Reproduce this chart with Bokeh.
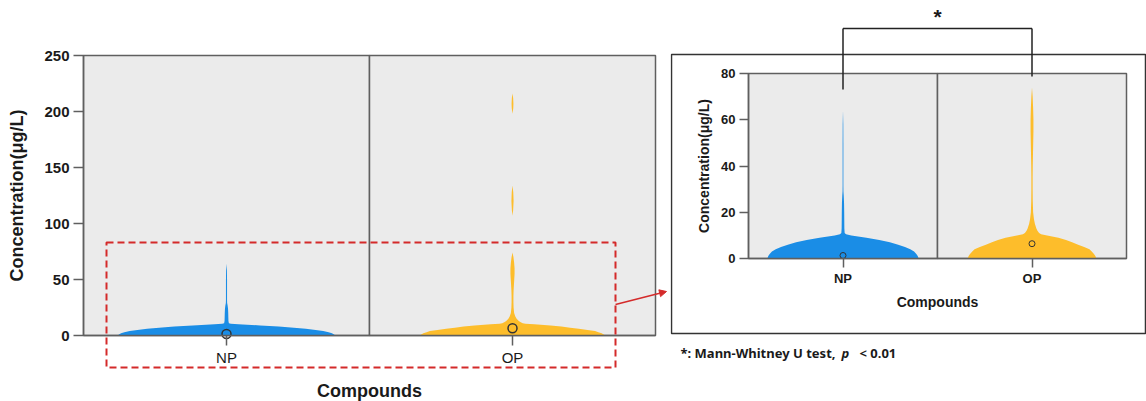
import numpy as np
from bokeh.plotting import figure
from bokeh.models import (Range1d, FixedTicker, BoxAnnotation, Arrow,
                          NormalHead, Label)
from bokeh.layouts import row
from bokeh.embed import file_html
from bokeh.resources import INLINE

# ---------------- data ----------------
categories = ["NP", "OP"]
np_levels = [0, 1, 2, 3, 4, 5, 6, 7, 8, 9, 10, 10.5, 11, 13, 16, 20, 24, 27,
             29, 32, 40, 50, 58, 64]
np_density = [1.0, 0.99, 0.97, 0.94, 0.89, 0.82, 0.73, 0.62, 0.48, 0.31, 0.11,
              0.04, 0.022, 0.018, 0.017, 0.016, 0.014, 0.010, 0.006, 0.005,
              0.005, 0.005, 0.004, 0.0]
op_levels = [0, 1, 2, 3, 4, 5, 6, 7, 8, 9, 10, 10.5, 11, 12, 13, 15, 17, 20,
             25, 30, 35, 40, 45, 50, 55, 60, 65, 70, 74, 107, 112, 120, 128,
             134, 198, 203, 207, 212, 216]
op_density = [0.85, 0.84, 0.82, 0.79, 0.76, 0.69, 0.61, 0.53, 0.45, 0.35, 0.20,
              0.12, 0.094, 0.072, 0.058, 0.038, 0.026, 0.015, 0.010, 0.0085,
              0.0085, 0.010, 0.013, 0.016, 0.019, 0.019, 0.015, 0.0085, 0.0,
              0.0, 0.006, 0.010, 0.007, 0.0, 0.0, 0.007, 0.0085, 0.006, 0.0]
medians = [1.3, 6.4]
left_yticks = [0, 50, 100, 150, 200, 250]
right_yticks = [0, 20, 40, 60, 80]

colors = ["#1a8de6", "#fdbd2b"]
FONT = "Liberation Sans"
TXT = "#1a1a1a"
FRAME = "#5f5f5f"
RED = "#d42a2a"
H = 401


def make_panel(cw, area, ymax, yticks, wscale, tick_fs, title_fs, cat_fs,
               cat_style, standoff_y, standoff_x, tick_out, msize, mlw):
    """area = (left, right, top, bottom) pixel box of the plot area on the canvas"""
    l, r, t, b = area
    dx = 2.0 / (r - l)
    dy = ymax / (b - t)
    xr = Range1d(0.5 - l * dx, 2.5 + (cw - r) * dx)
    yr = Range1d(-(H - b) * dy, ymax + t * dy)
    p = figure(width=cw, height=H, x_range=xr, y_range=yr,
               min_border=0, output_backend="svg", toolbar_location=None)
    p.background_fill_color = "white"
    p.border_fill_color = "white"
    p.outline_line_color = None
    p.xgrid.visible = False
    p.ygrid.visible = False

    # category panels (gray background with frame)
    for k in range(len(categories)):
        p.add_layout(BoxAnnotation(left=0.5 + k, right=1.5 + k, bottom=0,
                                   top=ymax, fill_color="#ebebeb",
                                   fill_alpha=1.0, line_color=FRAME,
                                   line_alpha=1.0, line_width=1.5,
                                   level="underlay"))

    p.xaxis.ticker = FixedTicker(ticks=[1, 2])
    p.xaxis.major_label_overrides = {i + 1: c for i, c in enumerate(categories)}
    p.xaxis.fixed_location = 0
    p.xaxis.bounds = (0.5, 2.5)
    p.yaxis.ticker = FixedTicker(ticks=yticks)
    p.yaxis.fixed_location = 0.5
    p.yaxis.bounds = (0, ymax)
    for ax in (p.xaxis[0], p.yaxis[0]):
        ax.axis_line_color = FRAME
        ax.axis_line_width = 1.5
        ax.major_tick_line_color = FRAME
        ax.major_tick_line_width = 1.5
        ax.major_tick_in = 0
        ax.major_tick_out = tick_out
        ax.minor_tick_line_color = None
        ax.major_label_text_font = FONT
        ax.major_label_text_color = TXT
        ax.axis_label_text_font = FONT
        ax.axis_label_text_color = TXT
        ax.axis_label_text_font_style = "bold"
        ax.axis_label_text_font_size = f"{title_fs}px"
    p.yaxis.major_label_text_font_size = f"{tick_fs}px"
    p.yaxis.major_label_text_font_style = "bold"
    p.yaxis.major_label_standoff = 4
    p.yaxis.axis_label = "Concentration(μg/L)"
    p.yaxis.axis_label_standoff = standoff_y
    p.xaxis.major_label_text_font_size = f"{cat_fs}px"
    p.xaxis.major_label_text_font_style = cat_style
    p.xaxis.major_label_standoff = 3
    p.xaxis.axis_label = "Compounds"
    p.xaxis.axis_label_standoff = standoff_x

    for i, (lev, dens) in enumerate([(np_levels, np_density),
                                     (op_levels, op_density)]):
        c = i + 1
        lev = np.array(lev, dtype=float)
        keep = lev <= ymax
        w = np.array(dens)[keep] * wscale
        p.harea(x1=c - w, x2=c + w, y=lev[keep], fill_color=colors[i])
    p.scatter(x=[1, 2], y=medians, marker="circle", size=msize,
              fill_color=None, line_color="#333333", line_width=mlw)

    def px(x):
        return xr.start + x * dx

    def py(y):
        return yr.end - y * dy
    return p, px, py


# ---------------- left panel ----------------
pL, lx, ly = make_panel(670, (83, 655, 55, 335), 250, left_yticks, 0.38,
                        15, 18, 15, "normal", 14, 12, 10, 9, 1.5)
pL.add_layout(BoxAnnotation(left=lx(106), right=lx(615), top=ly(242),
                            bottom=ly(367), fill_alpha=0, fill_color=None,
                            line_color=RED, line_alpha=1.0, line_width=2,
                            line_dash="7 4"))
pL.add_layout(Arrow(x_start=lx(615), y_start=ly(304), x_end=lx(666),
                    y_end=ly(291), line_color=RED, line_width=1.5,
                    end=NormalHead(size=7, fill_color=RED, line_color=RED)))

# ---------------- right panel (zoom 0-80) ----------------
pR, rx, ry = make_panel(476, (78, 456, 73, 258), 80, right_yticks, 0.40,
                        13, 14, 13, "bold", 6, 5, 9, 6, 1.0)
pR.add_layout(BoxAnnotation(left=rx(1), right=rx(475), top=ry(54),
                            bottom=ry(333), fill_alpha=0, fill_color=None,
                            line_color="#333333", line_alpha=1.0,
                            line_width=1.5))
br_top = ry(28)
for xs, ys, xe, ye in [(1, ry(89), 1, br_top), (1, br_top, 2, br_top),
                       (2, br_top, 2, ry(76))]:
    pR.add_layout(Arrow(x_start=xs, y_start=ys, x_end=xe, y_end=ye, end=None,
                        line_color="#222222", line_width=1.5))
pR.add_layout(Label(x=1.5, y=ry(16), text="*", text_align="center",
                    text_baseline="middle", text_font=FONT,
                    text_font_style="bold", text_font_size="21px",
                    text_color=TXT))
NOTE_FONT = "Noto Sans"
for xx, tt, st in [(10, "*: Mann-Whitney U test,", "bold"),
                   (171, "p", "bold italic"), (189, "< 0.01", "bold")]:
    pR.add_layout(Label(x=rx(xx), y=ry(352), text=tt, text_align="left",
                        text_baseline="middle", text_font=NOTE_FONT,
                        text_font_style=st, text_font_size="13px",
                        text_color=TXT))

layout = row(pL, pR)
open("out.html", "w").write(file_html(layout, INLINE))
